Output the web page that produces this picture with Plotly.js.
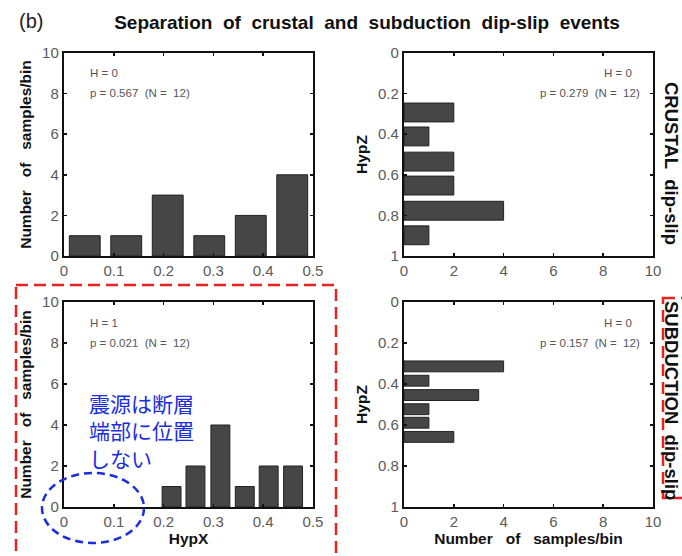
<!DOCTYPE html>
<html><head><meta charset="utf-8">
<script src="https://cdn.plot.ly/plotly-3.0.1.min.js"></script>
<style>html,body{margin:0;padding:0;background:#fff}</style>
</head><body>
<div id="chart" style="width:682px;height:556px"></div>
<script>
// ---- data ----
const crustalHypXBins = [0.0417, 0.125, 0.2083, 0.2917, 0.375, 0.4583];
const crustalHypXCounts = [1, 1, 3, 1, 2, 4];
const crustalHypZBins = [0.293, 0.411, 0.535, 0.653, 0.777, 0.898];
const crustalHypZCounts = [2, 1, 2, 2, 4, 1];
const subductionHypXBins = [0.216, 0.264, 0.314, 0.363, 0.411, 0.460];
const subductionHypXCounts = [1, 2, 4, 1, 2, 2];
const subductionHypZBins = [0.314, 0.384, 0.454, 0.523, 0.589, 0.658];
const subductionHypZCounts = [4, 1, 3, 1, 1, 2];
const hypXTicks = [0, 0.1, 0.2, 0.3, 0.4, 0.5];
const hypXTickText = ['0', '0.1', '0.2', '0.3', '0.4', '0.5'];
const countTicks = [0, 2, 4, 6, 8, 10];
const hypZTicks = [0, 0.2, 0.4, 0.6, 0.8, 1];
const hypZTickText = ['0', '0.2', '0.4', '0.6', '0.8', '1'];
const stats = [
  {h: 'H = 0', p: 'p = 0.567\u00A0\u00A0(N =\u00A0\u00A012)'},
  {h: 'H = 0', p: 'p = 0.279\u00A0\u00A0(N =\u00A0\u00A012)'},
  {h: 'H = 1', p: 'p = 0.021\u00A0\u00A0(N =\u00A0\u00A012)'},
  {h: 'H = 0', p: 'p = 0.157\u00A0\u00A0(N =\u00A0\u00A012)'}
];
const sp = '\u00A0\u00A0\u00A0';
const sp2 = '\u00A0\u00A0';
const countLabel = 'Number' + sp + 'of' + sp + 'samples/bin';
const noteLines = ['震源は断層', '端部に位置', 'しない'];
const titleWords = ['Separation', 'of', 'crustal', 'and', 'subduction', 'dip-slip', 'events'];

// ---- helpers ----
const W = 682, H = 556;
const px = x => x / W;
const py = y => 1 - y / H;
const FONT = 'Liberation Sans, Arial, sans-serif';
const barStyle = {color: '#464646', line: {color: '#222', width: 1}};

const traces = [
  {type: 'bar', x: crustalHypXBins, y: crustalHypXCounts, width: 0.062, marker: barStyle, xaxis: 'x', yaxis: 'y'},
  {type: 'bar', orientation: 'h', y: crustalHypZBins, x: crustalHypZCounts, width: 0.093, marker: barStyle, xaxis: 'x2', yaxis: 'y2'},
  {type: 'bar', x: subductionHypXBins, y: subductionHypXCounts, width: 0.038, marker: barStyle, xaxis: 'x3', yaxis: 'y3'},
  {type: 'bar', orientation: 'h', y: subductionHypZBins, x: subductionHypZCounts, width: 0.053, marker: barStyle, xaxis: 'x4', yaxis: 'y4'}
];

function ax(extra) {
  return Object.assign({
    showline: true, linewidth: 2.2, linecolor: '#111', mirror: 'allticks',
    ticks: 'inside', ticklen: 3, tickwidth: 1.5, tickcolor: '#111',
    showgrid: false, zeroline: false, fixedrange: true,
    tickfont: {family: FONT, size: 15, color: '#5a5a5a'}
  }, extra);
}
const titleFont = {family: FONT, size: 15.5, color: '#111', weight: 'bold'};

const dL = [px(64), px(313)], dR = [px(404), px(653)];
const dT = [py(256), py(53)], dB = [py(507), py(302)];

const layout = {
  width: W, height: H, margin: {l: 0, r: 0, t: 0, b: 0},
  paper_bgcolor: '#fff', plot_bgcolor: '#fff', showlegend: false,
  bargap: 0,
  title: {text: titleWords.join(sp2),
    x: px(367), xanchor: 'center', y: py(22), yanchor: 'middle', font: {family: FONT, size: 19, color: '#111', weight: 'bold'}},
  xaxis: ax({domain: dL, anchor: 'y', range: [0, 0.5], tickvals: hypXTicks, ticktext: hypXTickText}),
  yaxis: ax({domain: dT, anchor: 'x', range: [0, 10], tickvals: countTicks,
    title: {text: countLabel, font: titleFont, standoff: 7}}),
  xaxis2: ax({domain: dR, anchor: 'y2', range: [0, 10], tickvals: countTicks}),
  yaxis2: ax({domain: dT, anchor: 'x2', range: [1, 0], tickvals: hypZTicks, ticktext: hypZTickText,
    title: {text: 'HypZ', font: titleFont, standoff: 7}}),
  xaxis3: ax({domain: dL, anchor: 'y3', range: [0, 0.5], tickvals: hypXTicks, ticktext: hypXTickText,
    title: {text: 'HypX', font: titleFont, standoff: 3}}),
  yaxis3: ax({domain: dB, anchor: 'x3', range: [0, 10], tickvals: countTicks,
    title: {text: countLabel, font: titleFont, standoff: 7}}),
  xaxis4: ax({domain: dR, anchor: 'y4', range: [0, 10], tickvals: countTicks,
    title: {text: countLabel, font: titleFont, standoff: 3}}),
  yaxis4: ax({domain: dB, anchor: 'x4', range: [1, 0], tickvals: hypZTicks, ticktext: hypZTickText,
    title: {text: 'HypZ', font: titleFont, standoff: 7}}),
  annotations: [],
  shapes: [
    {type: 'rect', xref: 'paper', yref: 'paper', x0: px(16), x1: px(336), y0: py(285), y1: py(575),
      line: {color: '#e8231f', width: 2.5, dash: '12px,6px'}},
    {type: 'rect', xref: 'paper', yref: 'paper', x0: px(663), x1: px(700), y0: py(298), y1: py(498),
      line: {color: '#e8231f', width: 2.5, dash: '12px,6px'}},
    {type: 'circle', xref: 'paper', yref: 'paper', x0: px(42), x1: px(144), y0: py(473), y1: py(543),
      line: {color: '#1a2ee0', width: 2.5, dash: '8px,5px'}}
  ]
};

const statFont = {family: FONT, size: 11.5, color: '#555'};
const statPos = [
  {x: 88, anchor: 'left', y1: 73, y2: 93},
  {x: 642, anchor: 'right', y1: 73, y2: 93},
  {x: 88, anchor: 'left', y1: 323, y2: 343},
  {x: 642, anchor: 'right', y1: 323, y2: 343}
];
stats.forEach((s, i) => {
  const p = statPos[i];
  layout.annotations.push({xref: 'paper', yref: 'paper', x: px(p.anchor === 'right' ? p.x - 8 : p.x), y: py(p.y1), xanchor: p.anchor, yanchor: 'middle', text: s.h, showarrow: false, font: statFont});
  layout.annotations.push({xref: 'paper', yref: 'paper', x: px(p.x), y: py(p.y2), xanchor: p.anchor, yanchor: 'middle', text: s.p, showarrow: false, font: statFont});
});
layout.annotations.push(
  {xref: 'paper', yref: 'paper', x: px(17), y: py(21), xanchor: 'left', yanchor: 'middle', text: '(b)', showarrow: false,
    font: {family: FONT, size: 20, color: '#222'}},
  {xref: 'paper', yref: 'paper', x: px(671), y: py(163), xanchor: 'center', yanchor: 'middle', textangle: 90,
    text: 'CRUSTAL' + sp2 + 'dip-slip', showarrow: false, font: {family: FONT, size: 18.5, color: '#111', weight: 'bold'}},
  {xref: 'paper', yref: 'paper', x: px(672), y: py(400), xanchor: 'center', yanchor: 'middle', textangle: 90,
    text: 'SUBDUCTION' + sp2 + 'dip-slip', showarrow: false, font: {family: FONT, size: 18.5, color: '#111', weight: 'bold'}},
  {xref: 'paper', yref: 'paper', x: px(87), y: py(430), xanchor: 'left', yanchor: 'middle', align: 'left',
    text: noteLines.join('<br>'), showarrow: false, font: {family: 'Noto Sans CJK JP', size: 21, color: '#1a2ee0'}}
);

Plotly.newPlot('chart', traces, layout, {displayModeBar: false, staticPlot: true});
</script>
</body></html>
